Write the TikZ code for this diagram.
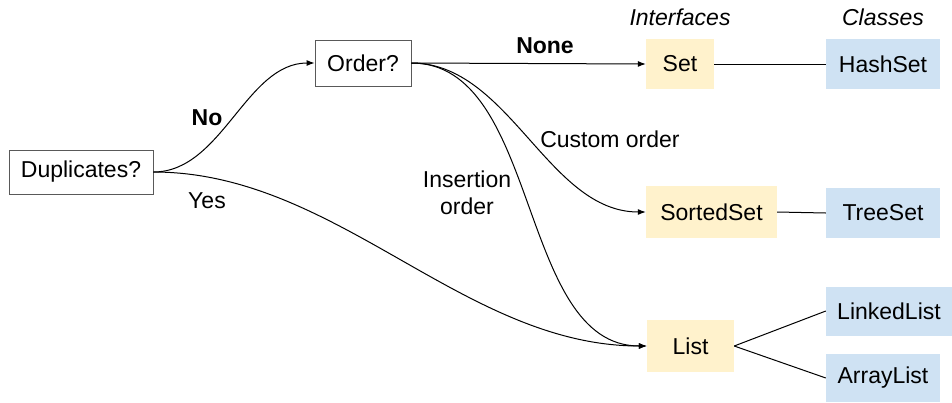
\documentclass[tikz,border=0pt]{standalone}
\usepackage{fontspec}
\setmainfont{Liberation Sans}
\usetikzlibrary{arrows.meta}
\definecolor{ifc}{HTML}{FFF2CC}
\definecolor{clc}{HTML}{CFE2F3}
\definecolor{bordc}{HTML}{595959}
\begin{document}
\begin{tikzpicture}[x=1pt,y=-1pt,
  every node/.style={font=\fontsize{23}{27}\selectfont, inner sep=0pt},
  qbox/.style={draw=bordc, line width=0.8pt, fill=white},
  ibox/.style={fill=ifc},
  cbox/.style={fill=clc},
  arr/.style={line width=1pt, -{Latex[length=8pt,width=6pt]}},
  ln/.style={line width=1pt},
  lbl/.style={align=center}]
\useasboundingbox (0,0) rectangle (952,402);
\node[qbox, minimum width=144pt, minimum height=44pt] (dup) at (81,172) {Duplicates?};
\node[qbox, minimum width=96pt, minimum height=46pt] (ord) at (363,63) {Order?};
\node[ibox, minimum width=68pt, minimum height=50pt] (set) at (680,64) {Set};
\node[ibox, minimum width=131pt, minimum height=52pt] (sset) at (711.5,212) {SortedSet};
\node[ibox, minimum width=87pt, minimum height=52pt] (list) at (690.5,346) {List};
\node[cbox, minimum width=114pt, minimum height=50pt] (hset) at (883,64) {HashSet};
\node[cbox, minimum width=114pt, minimum height=50pt] (tset) at (883,213) {TreeSet};
\node[cbox, minimum width=126pt, minimum height=49pt] (llist) at (889,311) {LinkedList};
\node[cbox, minimum width=114pt, minimum height=48pt] (alist) at (883,378) {ArrayList};
\node[lbl, font=\fontsize{23}{27}\selectfont\itshape] (hif) at (680,17) {Interfaces};
\node[lbl, font=\fontsize{23}{27}\selectfont\itshape] (hcl) at (883,17) {Classes};
\node[lbl, font=\fontsize{23}{27}\selectfont\bfseries] (lno) at (207,118) {No};
\node[lbl] (lyes) at (207,201) {Yes};
\node[lbl, font=\fontsize{23}{27}\selectfont\bfseries] (lnone) at (545,46) {None};
\node[lbl] (lcus) at (610,139) {Custom order};
\node[lbl, align=center] (lins) at (467,193) {Insertion\\order};
\draw[arr] (dup.east) to[out=0,in=180,looseness=0.9] (ord.west);
\draw[arr] (dup.east) to[out=0,in=180,looseness=0.9] (list.west);
\draw[arr] (ord.east) -- (set.west);
\draw[arr] (ord.east) to[out=0,in=180,looseness=0.9] (sset.west);
\draw[arr] (ord.east) to[out=0,in=180,looseness=0.9] (list.west);
\draw[ln] (set.east) -- (hset.west);
\draw[ln] (sset.east) -- (tset.west);
\draw[ln] (list.east) -- (llist.west);
\draw[ln] (list.east) -- (alist.west);
\end{tikzpicture}
\end{document}
